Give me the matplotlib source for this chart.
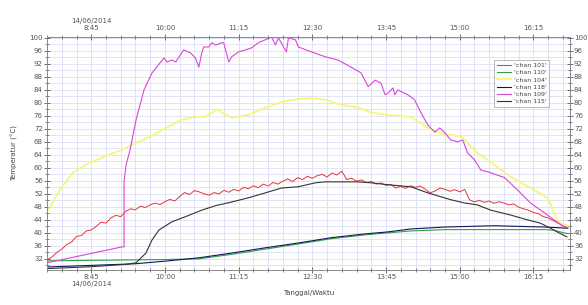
import pandas as pd
import matplotlib
matplotlib.use("Agg")
import matplotlib.pyplot as plt
import matplotlib.dates as mdates
from matplotlib.ticker import FixedLocator, MultipleLocator, FuncFormatter

DAY = "2014-06-14 08:00"

# minutes after 08:00 and temperatures (deg C)
chan101_t = list(range(0, 535, 5))
chan101_v = [31.7, 32.6, 34.0, 35.0, 36.4, 37.2, 38.9, 39.2, 40.6, 40.9,
             42.0, 43.3, 43.0, 44.6, 45.4, 45.0, 46.6, 47.4, 47.1, 48.2,
             47.8, 48.6, 49.2, 48.7, 49.6, 50.3, 49.8, 51.2, 52.4, 51.8,
             53.0, 52.6, 52.0, 51.6, 52.4, 52.0, 53.1, 52.5, 53.4, 52.9,
             54.0, 53.6, 54.5, 53.9, 55.0, 54.4, 55.5, 55.0, 55.9, 56.6,
             55.8, 57.0, 56.4, 57.4, 56.8, 57.6, 58.0, 57.2, 58.4, 57.8,
             59.0, 56.4, 56.8, 55.9, 56.3, 55.5, 55.8, 55.0, 55.4, 54.6,
             54.9, 53.8, 54.3, 53.7, 54.5, 54.0, 54.4, 53.4, 52.3, 52.9,
             53.8, 53.4, 52.8, 53.3, 52.6, 53.4, 50.2, 49.5, 50.0, 49.4,
             49.8, 49.1, 49.6, 49.2, 48.6, 48.9, 47.9, 47.4, 47.0, 46.3,
             45.9, 45.0, 44.6, 43.8, 43.0, 42.3, 41.6]

chan110_t = [0, 60, 120, 154, 188, 222, 256, 289, 324, 347, 370, 405, 455, 506, 516, 526, 530]
chan110_v = [31.4, 31.6, 31.8, 32.0, 33.4, 35.0, 36.6, 38.2, 39.4, 40.0, 40.6, 41.0, 41.0, 41.0, 40.8, 40.0, 39.8]

chan104_t = [0, 13, 26, 43, 60, 76, 86, 104, 121, 137, 151, 161, 172, 175, 178, 188,
             205, 222, 239, 256, 269, 283, 296, 317, 330, 347, 370, 380, 391, 405,
             421, 425, 438, 448, 472, 496, 509, 512, 516, 521, 526, 530]
chan104_v = [46.5, 53.2, 58.5, 61.5, 63.7, 65.5, 67.0, 69.5, 72.3, 74.8, 75.7, 75.7, 77.8, 77.8, 77.0, 75.4,
             76.3, 78.5, 80.3, 81.2, 81.5, 81.0, 79.7, 78.5, 77.0, 76.3, 75.7, 73.8, 71.7, 70.2,
             69.8, 68.6, 64.6, 62.5, 57.2, 53.2, 50.8, 49.2, 46.2, 43.4, 42.5, 42.2]

chan118_t = [0, 45, 90, 120, 154, 188, 222, 256, 289, 324, 347, 370, 405, 455, 506, 526, 530]
chan118_v = [29.5, 30.0, 30.5, 31.3, 32.3, 33.8, 35.4, 36.9, 38.5, 39.7, 40.3, 41.2, 41.8, 42.2, 41.8, 41.5, 41.4]

chan109_t = [0, 76.4, 78.4, 78.4, 80.5, 84.5, 90.6, 98.7, 106.8, 119, 122, 127, 131, 139, 146,
             151, 154.5, 157.5, 159.5, 164.6, 167.6, 171.7, 177.8, 179.8, 184.9, 188, 195,
             202, 208, 215, 222, 228.5, 232.5, 235.5, 243.6, 245.7, 252.8, 255.8, 269, 283,
             296, 309.5, 319.7, 326.8, 333.9, 340, 344, 347, 352, 354, 357, 367, 374, 380.5,
             387.6, 394.7, 399.7, 404.8, 410.9, 418, 423, 428, 435, 441.3, 451.4, 465.6,
             478.8, 492, 506, 516, 526, 530]
chan109_v = [30.8, 35.7, 35.7, 56.0, 61.0, 65.5, 74.8, 84.0, 89.2, 93.8, 92.6, 93.2, 92.6, 96.3, 95.4,
             93.8, 91.0, 95.4, 97.2, 97.2, 98.5, 97.8, 98.5, 98.5, 92.6, 94.2, 95.7,
             96.3, 96.9, 98.5, 99.4, 100.3, 97.8, 100.0, 95.7, 100.0, 99.4, 97.2, 95.7, 94.2,
             93.2, 91.0, 89.2, 85.0, 87.0, 86.0, 82.5, 83.0, 84.6, 82.5, 84.0, 82.5, 81.0, 77.0,
             73.2, 71.0, 72.3, 70.8, 68.6, 68.0, 68.6, 64.6, 62.5, 59.4, 58.5, 57.0,
             53.2, 49.2, 46.2, 44.0, 41.8, 41.5]

chan115_t = [0, 45, 80, 90.6, 100.7, 106.8, 114, 127, 141, 157.5, 171.7, 188, 205, 222, 238.6,
             255.8, 273, 283, 296, 316.6, 330, 347, 370, 387.6, 410.9, 425, 438, 451.4, 471.7,
             489, 502, 512, 521, 529]
chan115_v = [29.0, 29.6, 30.3, 30.8, 33.8, 37.8, 40.9, 43.4, 45.0, 47.0, 48.4, 49.5, 50.8, 52.3, 53.8,
             54.2, 55.4, 55.7, 55.7, 55.7, 55.4, 54.8, 54.2, 52.3, 50.2, 49.2, 48.6, 47.0, 45.5,
             44.0, 43.0, 41.5, 40.0, 38.8]

series = [
    ("'chan 101'", chan101_t, chan101_v, "#e0383a", 0.7),
    ("'chan 110'", chan110_t, chan110_v, "#2ea050", 0.8),
    ("'chan 104'", chan104_t, chan104_v, "#f6f67c", 1.3),
    ("'chan 118'", chan118_t, chan118_v, "#14145e", 0.8),
    ("'chan 109'", chan109_t, chan109_v, "#d846d8", 0.8),
    ("'chan 115'", chan115_t, chan115_v, "#333333", 0.8),
]


def to_dates(minutes):
    return pd.Timestamp(DAY) + pd.to_timedelta(minutes, unit="m")


def time_formatter(date_on_top):
    def f(x, pos):
        d = mdates.num2date(x)
        s = f"{d.hour}:{d.minute:02d}"
        if pos == 0:
            return "14/06/2014\n" + s if date_on_top else s + "\n14/06/2014"
        return s
    return f


fig = plt.figure(figsize=(5.88, 3.05), dpi=100)
ax = fig.add_axes([0.080, 0.115, 0.889, 0.764])

for name, t, v, col, lw in series:
    ax.plot(to_dates(t), v, color=col, lw=lw, label=name)

x0 = mdates.date2num(pd.Timestamp(DAY))
x1 = mdates.date2num(pd.Timestamp("2014-06-14 16:52"))
ax.set_xlim(x0, x1)
ax.set_ylim(28.6, 100.3)

major = [mdates.date2num(d) for d in pd.date_range("2014-06-14 08:45", periods=7, freq="75min")]
minor = [mdates.date2num(d) for d in pd.date_range("2014-06-14 08:00", periods=36, freq="15min")]

ax.xaxis.set_major_locator(FixedLocator(major))
ax.xaxis.set_minor_locator(FixedLocator(minor))
ax.xaxis.set_major_formatter(FuncFormatter(time_formatter(False)))
ax.yaxis.set_major_locator(MultipleLocator(4))
ax.yaxis.set_minor_locator(MultipleLocator(2))

ax.grid(True, which="both", color="#d8d8f4", lw=0.5)
ax.set_axisbelow(True)

tick_col = "#555555"
ax.tick_params(which="both", direction="inout", colors=tick_col, labelsize=5,
               right=True, labelright=True, pad=1)
ax.tick_params(which="major", length=4, width=0.6)
ax.tick_params(which="minor", length=2.5, width=0.5)
for sp in ax.spines.values():
    sp.set_color("#8a8a8a")
    sp.set_linewidth(0.7)

top = ax.twiny()
top.set_xlim(x0, x1)
top.xaxis.set_major_locator(FixedLocator(major))
top.xaxis.set_minor_locator(FixedLocator(minor))
top.xaxis.set_major_formatter(FuncFormatter(time_formatter(True)))
top.tick_params(which="both", direction="inout", colors=tick_col, labelsize=5, pad=2)
top.tick_params(which="major", length=4, width=0.6)
top.tick_params(which="minor", length=2.5, width=0.5)
for sp in top.spines.values():
    sp.set_color("#8a8a8a")
    sp.set_linewidth(0.7)

ax.set_ylabel("Temperatur (°C)", fontsize=5, color="#444444", labelpad=8)
ax.set_xlabel("Tanggal/Waktu", fontsize=5, color="#444444", labelpad=2)

leg = ax.legend(loc="upper right", bbox_to_anchor=(0.967, 0.915), fontsize=4.5,
                frameon=True, fancybox=False, edgecolor="#999999",
                handlelength=2.2, labelspacing=0.3, borderpad=0.45, handletextpad=0.5)
leg.get_frame().set_linewidth(0.6)
for txt in leg.get_texts():
    txt.set_color("#444444")

fig.savefig("out.png", dpi=100, facecolor="white")
